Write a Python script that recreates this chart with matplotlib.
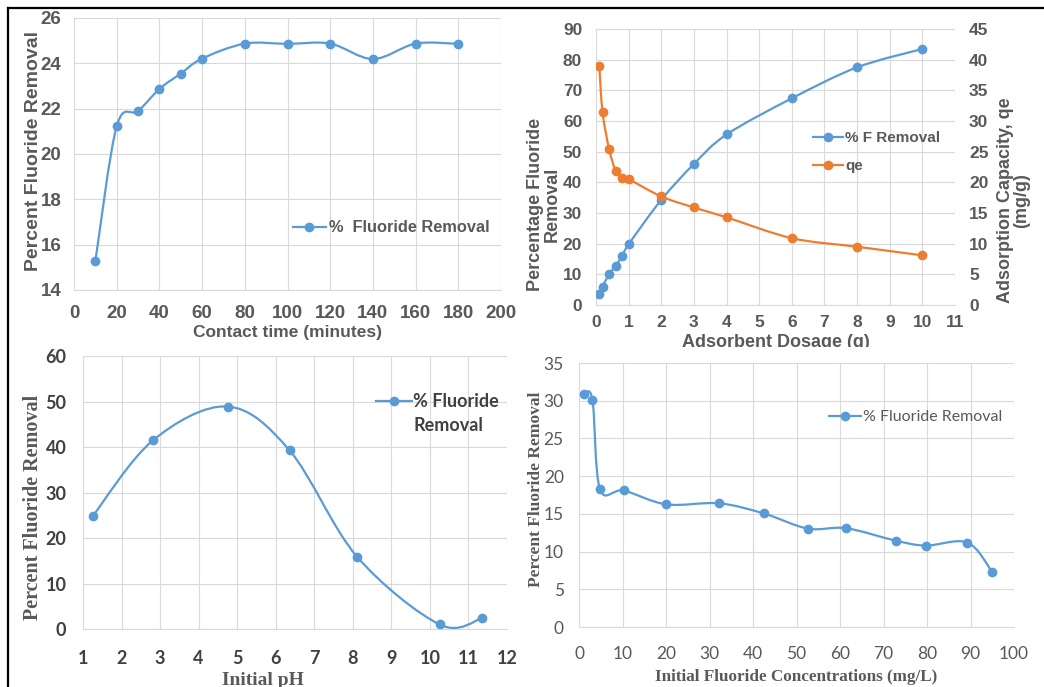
import numpy as np
import matplotlib
matplotlib.use("Agg")
import matplotlib.pyplot as plt
from matplotlib.path import Path
from matplotlib.patches import PathPatch, Rectangle
from matplotlib.lines import Line2D

# ---- data ----
time_min = [10, 20, 30, 40, 50, 60, 80, 100, 120, 140, 160, 180]
time_removal = [15.28, 21.23, 21.89, 22.87, 23.55, 24.21, 24.87, 24.86, 24.87, 24.19, 24.87, 24.86]

dose_g = [0.1, 0.2, 0.4, 0.6, 0.8, 1, 2, 3, 4, 6, 8, 10]
dose_removal = [3.6, 6.0, 10.0, 12.8, 15.9, 19.8, 34.3, 46.0, 55.6, 67.4, 77.5, 83.5]
dose_qe = [38.95, 31.45, 25.45, 21.9, 20.7, 20.5, 17.7, 15.9, 14.3, 10.9, 9.5, 8.1]

ph = [1.26, 2.82, 4.75, 6.36, 8.11, 10.25, 11.35]
ph_removal = [24.9, 41.5, 48.9, 39.25, 15.9, 1.0, 2.35]

conc = [1.1, 3.1, 4.8, 10.3, 20.1, 32.2, 42.5, 52.6, 61.4, 72.8, 79.7, 89.3, 95.0]
conc_removal = [30.9, 30.1, 18.3, 18.1, 16.26, 16.4, 15.05, 13.05, 13.1, 11.45, 10.8, 11.2, 7.27]

BLUE = "#5B9BD5"
ORANGE = "#ED7D31"
GRID = "#D9D9D9"
TXT = "#595959"


def smooth_path(x, y):
    # excel style smoothed line: cubic bezier through the points
    x = np.asarray(x, float)
    y = np.asarray(y, float)
    p = np.column_stack([x, y])
    n = len(p)
    verts = [p[0]]
    codes = [Path.MOVETO]
    for i in range(n - 1):
        p0 = p[i - 1] if i > 0 else p[i]
        p3 = p[i + 2] if i + 2 < n else p[i + 1]
        c1 = p[i] + (p[i + 1] - p0) / 6.0
        c2 = p[i + 1] - (p3 - p[i]) / 6.0
        verts += [c1, c2, p[i + 1]]
        codes += [Path.CURVE4] * 3
    return Path(verts, codes)


def draw_series(ax, x, y, color, label):
    ax.add_patch(PathPatch(smooth_path(x, y), facecolor="none", edgecolor=color,
                           lw=1.6, zorder=3))
    ax.plot(x, y, "o", color=color, ms=6, zorder=4)
    return Line2D([], [], color=color, lw=1.6, marker="o", ms=6, label=label)


def style(ax):
    ax.grid(True, color=GRID, lw=0.8)
    ax.set_axisbelow(True)
    for s in ["top", "right", "left"]:
        ax.spines[s].set_visible(False)
    ax.spines["bottom"].set_color(GRID)
    ax.tick_params(length=0)


fig = plt.figure(figsize=(10.44, 6.87), dpi=100)

sans = "Liberation Sans"
serif = "Liberation Serif"
calibri = "Lato"

# ---- panel 1 : contact time ----
ax1 = fig.add_axes([0.0709, 0.5779, 0.4090, 0.3959])
style(ax1)
h = draw_series(ax1, time_min, time_removal, BLUE, "%  Fluoride Removal")
ax1.set_xlim(0, 200)
ax1.set_ylim(14, 26)
ax1.set_xticks(range(0, 201, 20))
ax1.set_yticks(range(14, 27, 2))
ax1.tick_params(axis="x", pad=11)
ax1.tick_params(axis="y", pad=9)
for t in ax1.get_xticklabels() + ax1.get_yticklabels():
    t.set_fontfamily(sans); t.set_fontweight("bold"); t.set_fontsize(13.5); t.set_color(TXT)
ax1.set_xlabel("Contact time (minutes)", fontfamily=sans, fontweight="bold", fontsize=12.5, color=TXT)
ax1.set_ylabel("Percent Fluoride Removal", fontfamily=sans, fontweight="bold", fontsize=14, color=TXT)
ax1.xaxis.label.set_va("center")
ax1.yaxis.label.set_va("center")
ax1.xaxis.set_label_coords(0.5, -0.158)
ax1.yaxis.set_label_coords(-0.096, 0.51)
ax1.legend(handles=[h], loc="center left", bbox_to_anchor=(0.513, 0.228), frameon=False,
           borderpad=0, borderaxespad=0, handlelength=2.0, handletextpad=0.2,
           prop={"family": sans, "weight": "bold", "size": 11.8}, labelcolor=TXT)

# ---- panel 2 : adsorbent dosage ----
ax2 = fig.add_axes([0.5709, 0.5560, 0.3439, 0.4018])
style(ax2)
ax2b = ax2.twinx()
for s in ax2b.spines.values():
    s.set_visible(False)
ax2b.tick_params(length=0)
h1 = draw_series(ax2, dose_g, dose_removal, BLUE, "% F Removal")
h2 = draw_series(ax2b, dose_g, dose_qe, ORANGE, "qe")
ax2.set_xlim(0, 11)
ax2.set_ylim(0, 90)
ax2b.set_ylim(0, 45)
ax2.set_xticks(range(0, 12))
ax2.set_yticks(range(0, 91, 10))
ax2b.set_yticks(range(0, 46, 5))
ax2.tick_params(axis="x", pad=7)
ax2.tick_params(axis="y", pad=10)
ax2b.tick_params(axis="y", pad=10)
for t in ax2.get_xticklabels() + ax2.get_yticklabels() + ax2b.get_yticklabels():
    t.set_fontfamily(sans); t.set_fontweight("bold"); t.set_fontsize(12.5); t.set_color(TXT)
ax2.set_xlabel("Adsorbent Dosage (g)", fontfamily=sans, fontweight="bold", fontsize=13, color=TXT)
ax2.xaxis.label.set_va("center")
ax2.xaxis.set_label_coords(0.5, -0.134)
ax2.set_ylabel("Percentage Fluoride\nRemoval", fontfamily=sans, fontweight="bold", fontsize=13,
               color=TXT, linespacing=0.95)
ax2.yaxis.label.set_va("center")
ax2.yaxis.set_label_coords(-0.145, 0.366)
ax2b.set_ylabel("Adsorption Capacity, qe\n(mg/g)", fontfamily=sans, fontweight="bold", fontsize=13,
                color=TXT, linespacing=0.95, rotation=90)
ax2b.yaxis.label.set_va("center")
ax2b.yaxis.set_label_coords(1.164, 0.38)
ax2b.legend(handles=[h1, h2], loc="center left", bbox_to_anchor=(0.604, 0.554), frameon=False,
            borderpad=0, borderaxespad=0, handlelength=2.0, handletextpad=0.1, labelspacing=0.9,
            prop={"family": sans, "weight": "bold", "size": 11}, labelcolor=TXT)

# white cover so the bottom-right panel cuts the dosage label like the original
fig.add_artist(Rectangle((0.498, 0), 0.502, 1 - 347 / 687, transform=fig.transFigure,
                         facecolor="white", edgecolor="none", zorder=1))

# ---- panel 3 : initial pH ----
ax3 = fig.add_axes([0.0795, 0.0844, 0.4061, 0.3974])
style(ax3)
h = draw_series(ax3, ph, ph_removal, BLUE, "% Fluoride")
h_wrap = Line2D([], [], color="none", label="Removal")
ax3.set_xlim(1, 12)
ax3.set_ylim(0, 60)
ax3.set_xticks(range(1, 13))
ax3.set_yticks(range(0, 61, 10))
ax3.tick_params(axis="x", pad=15)
ax3.tick_params(axis="y", pad=12)
for t in ax3.get_xticklabels() + ax3.get_yticklabels():
    t.set_fontfamily(calibri); t.set_fontweight("bold"); t.set_fontsize(13); t.set_color("#404040")
ax3.set_xlabel("Initial pH", fontfamily=serif, fontweight="bold", fontsize=14, color=TXT)
ax3.set_ylabel("Percent Fluoride Removal", fontfamily=serif, fontweight="bold", fontsize=14.5, color=TXT)
ax3.xaxis.label.set_va("center")
ax3.yaxis.label.set_va("center")
ax3.xaxis.set_label_coords(0.425, -0.19)
ax3.yaxis.set_label_coords(-0.118, 0.447)
ax3.legend(handles=[h, h_wrap], loc="upper left", bbox_to_anchor=(0.69, 0.865), frameon=False,
           borderpad=0, borderaxespad=0, handlelength=2.0, handletextpad=0.1, labelspacing=0.4,
           prop={"family": calibri, "weight": "bold", "size": 13}, labelcolor="#404040")

# ---- panel 4 : initial concentration ----
ax4 = fig.add_axes([0.5546, 0.0873, 0.4167, 0.3843])
ax4.set_zorder(2)
style(ax4)
h = draw_series(ax4, conc, conc_removal, BLUE, "% Fluoride Removal")
ax4.set_xlim(0, 100)
ax4.set_ylim(0, 35)
ax4.set_xticks(range(0, 101, 10))
ax4.set_yticks(range(0, 36, 5))
ax4.tick_params(axis="x", pad=14)
ax4.tick_params(axis="y", pad=11)
for t in ax4.get_xticklabels() + ax4.get_yticklabels():
    t.set_fontfamily(calibri); t.set_fontsize(12.5); t.set_color(TXT)
ax4.set_xlabel("Initial Fluoride Concentrations (mg/L)", fontfamily=serif, fontweight="bold",
               fontsize=12.3, color=TXT)
ax4.set_ylabel("Percent Fluoride Removal", fontfamily=serif, fontweight="bold", fontsize=12.5, color=TXT)
ax4.xaxis.label.set_va("center")
ax4.yaxis.label.set_va("center")
ax4.xaxis.set_label_coords(0.5, -0.19)
ax4.yaxis.set_label_coords(-0.099, 0.52)
ax4.legend(handles=[h], loc="center left", bbox_to_anchor=(0.575, 0.795), frameon=False,
           borderpad=0, borderaxespad=0, handlelength=2.0, handletextpad=0.1,
           prop={"family": calibri, "size": 11.5}, labelcolor=TXT)

# black frame lines at top and left
fig.add_artist(Line2D([8 / 1044, 1], [1 - 8 / 687, 1 - 8 / 687], transform=fig.transFigure,
                      color="black", lw=1.6, zorder=5))
fig.add_artist(Line2D([8 / 1044, 8 / 1044], [0, 1 - 8 / 687], transform=fig.transFigure,
                      color="black", lw=1.6, zorder=5))

fig.savefig("out.png", dpi=100)
